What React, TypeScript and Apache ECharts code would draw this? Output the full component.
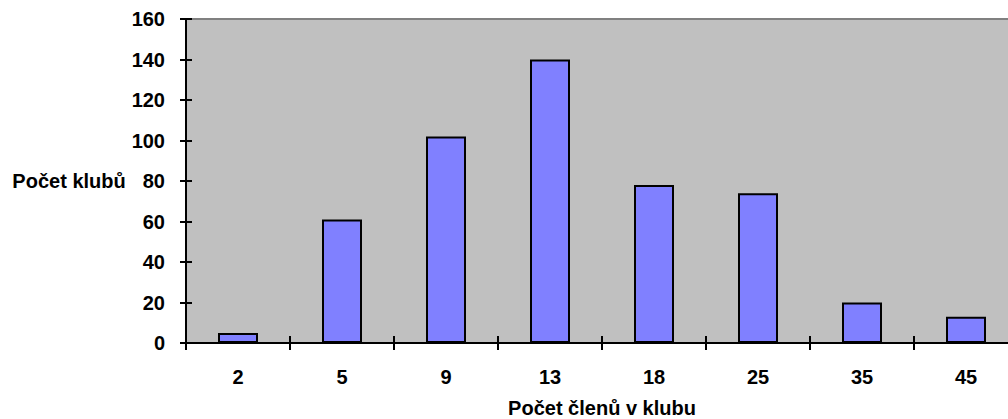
import React, { useEffect, useRef } from "react";
import * as echarts from "echarts";

const categories = ["2", "5", "9", "13", "18", "25", "35", "45"];
const clubCounts = [5, 61, 102, 140, 78, 74, 20, 13];
const yTitle = "Počet klubů";
const xTitle = "Počet členů v klubu";

export default function App() {
  const ref = useRef<HTMLDivElement>(null);
  useEffect(() => {
    if (!ref.current) return;
    const chart = echarts.init(ref.current, null, { renderer: "svg" });
    const font = { fontFamily: "Liberation Sans, Arial, sans-serif", fontWeight: "bold" as const, color: "#000" };
    chart.setOption({
      animation: false,
      backgroundColor: "#fff",
      grid: {
        left: 186,
        top: 19,
        width: 832,
        height: 324,
        outerBoundsMode: "none",
        containLabel: false,
        show: true,
        backgroundColor: "#C0C0C0",
        borderColor: "#808080",
        borderWidth: 2,
      },
      xAxis: [
        {
          type: "category",
          data: categories,
          position: "bottom",
          axisLine: { lineStyle: { color: "#000", width: 2 } },
          axisTick: { show: true, length: 7, lineStyle: { color: "#000", width: 2 } },
          axisLabel: { ...font, fontSize: 20, margin: 24 },
          name: xTitle,
          nameLocation: "middle",
          nameGap: 55,
          nameTextStyle: { ...font, fontSize: 20 },
        },
        {
          type: "category",
          data: categories,
          position: "bottom",
          axisLine: { show: false },
          axisTick: { show: true, inside: true, length: 7, lineStyle: { color: "#000", width: 2 } },
          axisLabel: { show: false },
        },
      ],
      yAxis: [
        {
          type: "value",
          min: 0,
          max: 160,
          interval: 20,
          axisLine: { show: true, lineStyle: { color: "#000", width: 2 } },
          axisTick: { show: true, length: 6, lineStyle: { color: "#000", width: 2 } },
          axisLabel: { ...font, fontSize: 20, margin: 21 },
          splitLine: { show: false },
          name: yTitle,
          nameLocation: "middle",
          nameRotate: 0,
          nameGap: 57,
          nameTextStyle: { ...font, fontSize: 20, align: "right", verticalAlign: "middle" },
        },
        {
          type: "value",
          min: 0,
          max: 160,
          interval: 20,
          position: "left",
          axisLine: { show: false },
          axisTick: { show: true, inside: true, length: 6, lineStyle: { color: "#000", width: 2 } },
          axisLabel: { show: false },
          splitLine: { show: false },
        },
      ],
      series: [
        {
          type: "bar",
          data: clubCounts,
          barWidth: 40,
          itemStyle: { color: "#8080FF", borderColor: "#000", borderWidth: 2 },
        },
      ],
    });
    return () => chart.dispose();
  }, []);
  return (
    <div
      ref={ref}
      style={{ position: "fixed", left: 0, top: 0, width: 1008, height: 419 }}
    />
  );
}
